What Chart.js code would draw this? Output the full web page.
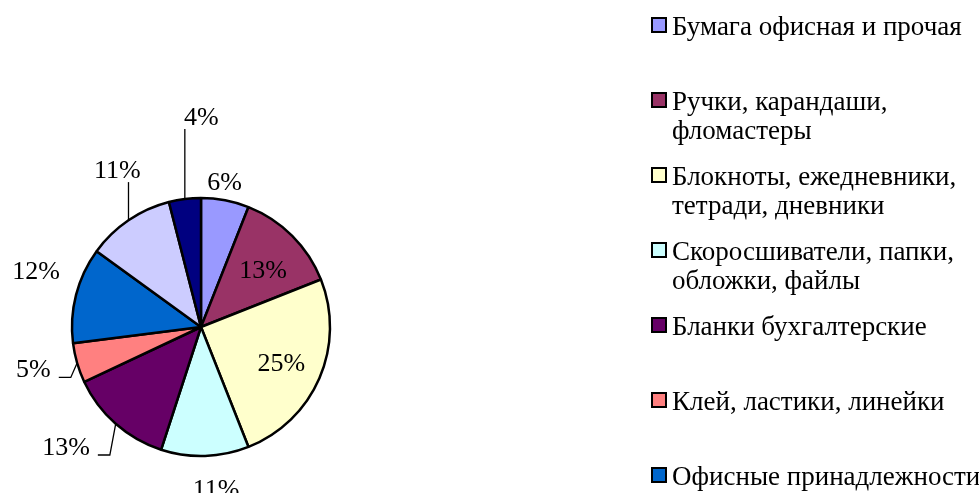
<!DOCTYPE html>
<html>
<head>
<meta charset="utf-8">
<script src="https://cdn.jsdelivr.net/npm/chart.js@4"></script>
<style>
  html, body { margin: 0; padding: 0; background: #fff; overflow: hidden; }
  #wrap { width: 979px; height: 493px; }
</style>
</head>
<body>
<div id="wrap"><canvas id="myChartPie"></canvas></div>
<script>
// categories (the last two are cut off at the bottom of the original)
var categories = [
  ['Бумага офисная и прочая'],
  ['Ручки, карандаши,', 'фломастеры'],
  ['Блокноты, ежедневники,', 'тетради, дневники'],
  ['Скоросшиватели, папки,', 'обложки, файлы'],
  ['Бланки бухгалтерские'],
  ['Клей, ластики, линейки'],
  ['Офисные принадлежности'],
  ['Канцелярские мелочи'],
  ['Прочее']
];
var shares = [6, 13, 25, 11, 13, 5, 12, 11, 4]; // percent
var sliceColors = ['#9999FF', '#993366', '#FFFFCC', '#CCFFFF', '#660066', '#FF8080', '#0066CC', '#CCCCFF', '#000080'];

// where each percent label sits: distance (x radius), angle shift (deg), leader line style
var labelPlacement = [
  { dist: 1.15, shift: -1.7, leader: 'none' },
  { dist: 0.66, shift: 1.9, leader: 'none' },
  { dist: 0.68, shift: 0.2, leader: 'none' },
  { dist: 1.25, shift: -3.6, leader: 'none' },
  { dist: 1.395, shift: 7.2, leader: 'elbow' },
  { dist: 1.338, shift: 2.3, leader: 'elbow' },
  { dist: 1.353, shift: 4.7, leader: 'none' },
  { dist: 1.385, shift: 6.3, leader: 'line' },
  { dist: 1.636, shift: 7.3, leader: 'line' }
];

var LABEL_FONT = '26px "Liberation Serif", "Times New Roman", serif';
var LEGEND_FONT = '27px "Liberation Serif", "Times New Roman", serif';

// percent labels with leader lines (like Excel)
var pctLabels = {
  id: 'pctLabels',
  afterDatasetsDraw(chart) {
    var ctx = chart.ctx;
    var arcs = chart.getDatasetMeta(0).data;
    var total = shares.reduce(function (a, b) { return a + b; }, 0);
    ctx.save();
    ctx.font = LABEL_FONT;
    ctx.fillStyle = '#000';
    ctx.strokeStyle = '#000';
    ctx.lineWidth = 1.3;
    ctx.textAlign = 'center';
    ctx.textBaseline = 'alphabetic';
    arcs.forEach(function (arc, i) {
      var p = labelPlacement[i];
      var mid = (arc.startAngle + arc.endAngle) / 2;
      var a = mid + p.shift * Math.PI / 180;
      var r = arc.outerRadius;
      var cx = arc.x + Math.cos(a) * r * p.dist;
      var cy = arc.y + Math.sin(a) * r * p.dist;
      var text = Math.round(shares[i] / total * 100) + '%';
      var w = ctx.measureText(text).width;
      ctx.fillText(text, cx, cy + 9);

      var ex = arc.x + Math.cos(mid) * r;
      var ey = arc.y + Math.sin(mid) * r;
      if (p.leader === 'line') {
        var lx = Math.min(Math.max(ex, cx - w / 2 - 3), cx + w / 2);
        ctx.beginPath();
        ctx.moveTo(ex, ey);
        ctx.lineTo(lx, cy + 13);
        ctx.stroke();
      } else if (p.leader === 'elbow') {
        var right = cx + w / 2;
        ctx.beginPath();
        ctx.moveTo(ex, ey);
        ctx.lineTo(right + 20, cy + 9);
        ctx.lineTo(right + 8, cy + 9);
        ctx.stroke();
      }
    });
    ctx.restore();
  }
};

// legend on the right, one slot per category
var sideLegend = {
  id: 'sideLegend',
  afterDraw(chart) {
    var ctx = chart.ctx;
    ctx.save();
    ctx.font = LEGEND_FONT;
    ctx.textAlign = 'left';
    ctx.textBaseline = 'alphabetic';
    categories.forEach(function (lines, i) {
      var base = 35 + i * 75;
      ctx.fillStyle = sliceColors[i];
      ctx.fillRect(652, base - 17, 14, 14);
      ctx.strokeStyle = '#000';
      ctx.lineWidth = 2;
      ctx.strokeRect(652, base - 17, 14, 14);
      ctx.fillStyle = '#000';
      lines.forEach(function (ln, k) {
        ctx.fillText(ln, 672, base + k * 29);
      });
    });
    ctx.restore();
  }
};

var ctx = document.getElementById('myChartPie');

new Chart(ctx, {
  type: 'pie',
  data: {
    labels: categories,
    datasets: [{
      data: shares,
      backgroundColor: sliceColors,
      borderColor: '#000',
      borderWidth: 2.5
    }]
  },
  options: {
    responsive: true,
    maintainAspectRatio: false,
    animation: false,
    radius: 129,
    layout: { padding: { left: 0, right: 577, top: 161, bottom: 0 } },
    plugins: {
      legend: { display: false },
      tooltip: { enabled: false }
    }
  },
  plugins: [pctLabels, sideLegend]
});
</script>
</body>
</html>
